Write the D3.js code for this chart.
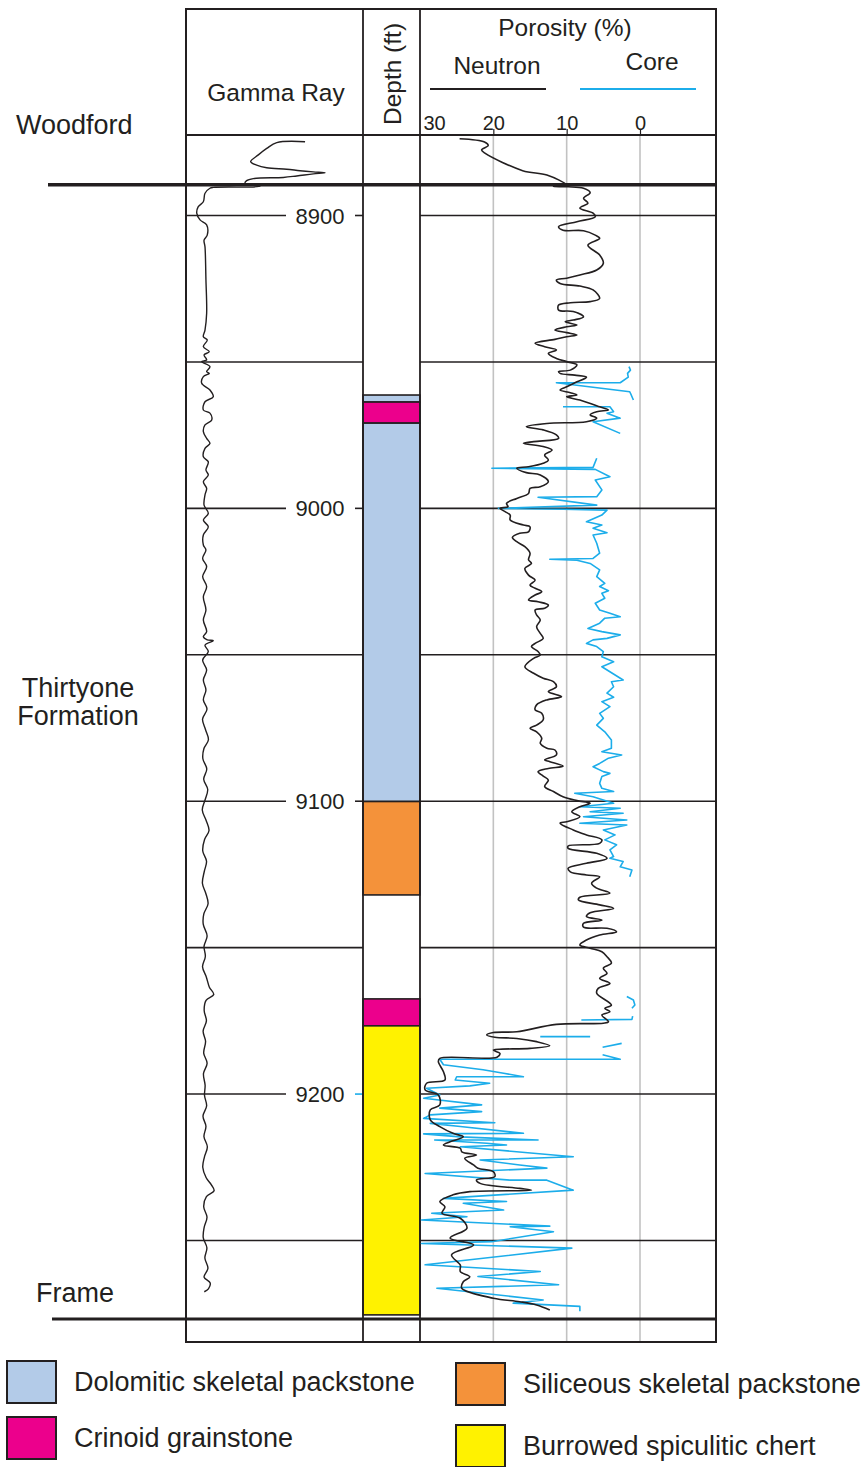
<!DOCTYPE html>
<html><head><meta charset="utf-8">
<script src="https://cdn.jsdelivr.net/npm/d3@7"></script>
<style>
body{margin:0;background:#fff;}
svg text{font-family:"Liberation Sans", Arial, Helvetica, sans-serif; fill:#231f20;}
</style></head><body>
<svg id="chart" width="867" height="1467"></svg>
<script>
// ---------------- DATA ----------------
const depthLabels = [8900, 9000, 9100, 9200];
const depthGrid = [8950, 9050, 9150, 9250];
const porosityTicks = [30, 20, 10, 0];
const porosityGrid = [20, 10, 0];
const formationNames = ["Woodford", "Frame"];
const formationTops = [8889.5, 9276.8];
const zoneLabel = ["Thirtyone", "Formation"];

const lithTypes = ["Dolomitic skeletal packstone", "Crinoid grainstone", "Siliceous skeletal packstone", "Burrowed spiculitic chert"];
const lithColors = ["#b3cbe8", "#ec008c", "#f4923a", "#fff200"];
const lithTop  = [8961.3, 8963.7, 8970.9, 9100.1, 9167.5, 9176.7];
const lithBase = [8963.7, 8970.9, 9100.1, 9132.0, 9176.7, 9275.4];
const lithKind = [0, 1, 0, 2, 1, 3];

// gamma ray [depth ft, API]
const gammaRay = [[8874.8,100.9],[8875.1,76.9],[8877.1,68.4],[8879.3,61.3],[8881.6,54.8],[8882.8,59.9],[8883.7,68.4],[8884.2,85.3],[8884.7,96.6],[8885.1,107.9],[8885.4,117.8],[8885.8,107.9],[8886.5,93.8],[8887.0,82.5],[8887.4,57.0],[8888.1,51.4],[8889.0,50.0],[8890.1,62.7],[8890.4,23.1],[8890.7,20.3],[8892.4,16.1],[8895.3,14.7],[8897.0,10.4],[8899.2,9.1],[8901.5,11.9],[8903.2,17.5],[8906.7,18.0],[8908.4,15.3],[8910.7,16.1],[8922.0,16.9],[8933.4,17.5],[8939.1,16.1],[8941.4,14.7],[8942.5,18.0],[8944.8,14.7],[8946.5,19.7],[8947.6,15.3],[8949.3,17.5],[8949.9,13.3],[8951.6,20.3],[8953.3,17.5],[8953.9,19.7],[8955.0,14.7],[8957.3,13.3],[8959.6,20.3],[8961.9,23.1],[8963.6,16.1],[8966.4,14.7],[8967.5,20.3],[8969.8,21.8],[8971.5,16.1],[8973.8,14.7],[8976.1,17.5],[8977.8,20.3],[8979.5,16.1],[8982.4,14.7],[8984.1,18.9],[8986.9,16.9],[8988.6,18.9],[8990.9,14.7],[8993.2,17.5],[8995.4,16.1],[8998.9,15.3],[9001.7,18.9],[9004.0,14.7],[9006.3,18.9],[9009.1,14.7],[9012.5,14.7],[9014.2,16.9],[9017.1,14.1],[9019.9,17.5],[9023.3,14.1],[9026.7,17.5],[9030.2,14.7],[9034.7,16.9],[9038.1,14.7],[9042.1,17.5],[9043.8,14.7],[9044.9,18.0],[9045.2,23.1],[9046.7,16.1],[9048.9,18.9],[9051.8,14.1],[9055.2,17.5],[9058.6,14.7],[9062.0,16.9],[9065.4,14.7],[9068.5,17.8],[9072.0,14.0],[9075.5,16.5],[9079.0,19.0],[9082.0,15.2],[9085.5,14.3],[9089.0,17.6],[9092.5,15.0],[9096.0,18.4],[9099.5,16.2],[9103.0,13.8],[9106.5,17.0],[9110.0,19.5],[9113.0,15.8],[9117.0,14.2],[9120.5,17.4],[9124.0,15.5],[9128.0,13.9],[9131.5,16.8],[9135.0,18.7],[9138.5,15.1],[9142.0,14.6],[9146.0,17.9],[9149.5,15.3],[9153.0,16.4],[9156.5,14.0],[9160.0,17.2],[9163.5,19.8],[9166.0,23.5],[9168.0,17.0],[9171.5,15.4],[9175.0,17.3],[9178.5,14.5],[9182.0,16.6],[9186.0,15.0],[9189.5,17.9],[9193.0,14.8],[9197.0,16.2],[9200.5,15.7],[9204.0,17.5],[9207.5,14.4],[9211.0,16.9],[9214.5,15.2],[9218.0,18.1],[9221.5,15.6],[9225.0,14.2],[9228.5,17.0],[9231.0,21.5],[9233.0,23.8],[9235.0,17.3],[9238.5,15.0],[9242.0,17.8],[9245.5,15.4],[9249.0,14.6],[9252.5,17.7],[9256.0,16.0],[9259.5,18.6],[9262.5,15.3],[9264.5,20.5],[9266.5,19.0],[9267.5,15.5]];

// neutron porosity [depth ft, %]
const neutron = [[8873.8,24.6],[8874.9,21.2],[8876.1,20.7],[8877.6,21.6],[8878.8,21.1],[8884.7,16.0],[8886.2,12.7],[8889.5,10.1],[8890.1,11.8],[8890.2,9.8],[8890.7,7.7],[8892.2,6.8],[8894.1,7.7],[8895.8,7.1],[8897.5,8.2],[8899.2,6.4],[8900.4,6.1],[8902.1,8.6],[8903.8,11.1],[8905.0,10.5],[8905.2,7.7],[8906.7,6.1],[8907.8,5.5],[8910.1,7.1],[8913.5,5.5],[8916.3,5.0],[8918.6,5.9],[8920.3,8.2],[8921.4,10.0],[8922.0,11.4],[8923.2,10.9],[8924.1,8.2],[8925.4,6.4],[8928.3,5.5],[8929.4,6.8],[8929.8,9.5],[8930.6,11.1],[8932.3,11.1],[8932.8,9.1],[8934.6,7.7],[8935.7,9.1],[8936.3,10.2],[8937.4,8.6],[8938.0,10.0],[8939.1,11.6],[8940.0,10.0],[8940.8,8.6],[8941.4,10.0],[8942.3,11.6],[8943.6,14.3],[8944.8,13.0],[8945.9,11.4],[8947.1,12.5],[8948.8,11.4],[8949.9,10.0],[8951.0,8.6],[8952.8,9.5],[8953.3,11.1],[8953.9,10.9],[8954.5,8.9],[8955.2,7.3],[8956.8,8.6],[8958.5,10.0],[8959.6,10.9],[8960.5,9.5],[8961.3,8.6],[8961.9,10.0],[8963.0,8.2],[8965.3,5.5],[8966.4,4.3],[8967.0,5.9],[8968.1,6.8],[8969.2,5.9],[8970.4,7.3],[8971.0,12.7],[8972.1,15.5],[8973.2,13.2],[8974.9,11.4],[8976.1,11.1],[8977.2,14.5],[8977.8,15.9],[8978.9,13.2],[8980.1,12.0],[8981.8,13.0],[8983.5,12.5],[8984.6,13.2],[8985.8,15.2],[8986.3,16.8],[8987.8,15.5],[8988.6,13.6],[8990.9,12.5],[8992.6,13.6],[8993.2,15.0],[8994.9,15.2],[8996.6,16.8],[8998.3,18.2],[8999.4,18.0],[9000.0,19.1],[9001.1,18.4],[9002.3,17.7],[9004.0,17.7],[9005.7,15.9],[9006.3,15.0],[9008.0,15.2],[9008.5,16.4],[9009.9,17.4],[9011.4,16.8],[9013.1,15.7],[9015.3,15.0],[9017.6,15.2],[9018.8,14.8],[9020.5,15.7],[9022.8,15.2],[9024.5,14.3],[9026.2,15.0],[9027.3,14.3],[9028.5,13.4],[9029.6,14.3],[9031.3,15.2],[9031.9,13.9],[9033.0,12.5],[9034.1,13.0],[9034.7,14.3],[9036.4,14.1],[9038.1,13.6],[9040.4,14.1],[9042.7,13.6],[9044.4,13.2],[9046.1,14.3],[9047.2,14.8],[9048.9,13.9],[9050.1,13.6],[9051.2,14.5],[9054.1,15.7],[9056.3,14.5],[9058.0,13.2],[9059.2,11.8],[9060.9,11.4],[9062.6,12.5],[9064.3,10.7],[9065.4,12.7],[9067.1,14.1],[9068.8,14.3],[9070.0,13.4],[9072.2,13.2],[9074.0,14.1],[9075.1,15.0],[9076.3,14.1],[9078.5,13.4],[9080.2,13.6],[9081.9,12.7],[9082.5,11.6],[9084.2,11.4],[9085.9,13.0],[9086.5,12.3],[9088.0,10.5],[9088.8,12.5],[9089.9,13.9],[9091.4,13.2],[9092.8,12.5],[9095.0,13.0],[9096.7,11.8],[9098.5,10.5],[9099.8,8.6],[9100.7,6.8],[9101.9,8.2],[9103.6,9.3],[9105.3,8.2],[9107.0,10.0],[9107.5,10.9],[9109.8,9.1],[9111.5,7.3],[9113.2,5.2],[9114.4,5.5],[9115.3,9.8],[9116.1,9.8],[9117.8,5.9],[9119.5,4.5],[9121.2,7.3],[9122.9,9.8],[9124.1,9.5],[9125.2,7.3],[9125.8,5.5],[9128.0,6.6],[9129.7,5.9],[9131.4,4.1],[9132.8,8.2],[9133.7,8.4],[9135.4,5.5],[9136.6,3.6],[9138.1,6.8],[9139.4,7.3],[9140.6,5.2],[9141.7,7.7],[9143.0,7.7],[9143.4,4.5],[9144.6,3.2],[9145.7,5.5],[9147.4,7.3],[9149.1,8.2],[9150.2,6.8],[9151.4,5.2],[9153.1,4.5],[9155.3,3.9],[9157.0,5.0],[9158.8,4.5],[9160.5,5.5],[9162.2,4.1],[9163.9,5.7],[9165.6,5.9],[9169.6,3.9],[9170.7,4.8],[9171.9,4.1],[9173.0,5.2],[9175.3,4.3],[9175.8,5.0],[9176.2,11.4],[9178.7,16.8],[9179.0,20.0],[9179.8,20.9],[9180.6,19.8],[9181.0,16.8],[9182.1,14.1],[9183.5,12.3],[9184.4,15.0],[9185.0,20.0],[9186.1,19.1],[9187.4,19.5],[9187.8,27.3],[9188.9,27.5],[9192.4,26.8],[9195.2,26.6],[9196.3,29.1],[9198.6,29.3],[9200.3,27.5],[9203.7,27.3],[9205.4,28.6],[9208.8,28.6],[9211.1,27.3],[9213.4,25.5],[9214.6,24.1],[9216.3,25.9],[9217.4,26.8],[9218.5,24.5],[9219.7,24.3],[9220.8,22.3],[9221.9,23.9],[9224.2,22.7],[9225.3,22.1],[9226.5,20.0],[9228.2,19.8],[9229.3,22.3],[9230.5,21.8],[9232.2,16.4],[9232.8,14.8],[9233.3,23.2],[9234.4,25.5],[9236.7,27.3],[9238.5,26.6],[9240.7,27.0],[9242.4,24.5],[9245.8,23.6],[9249.2,25.9],[9251.5,22.7],[9254.9,25.7],[9258.4,24.5],[9260.6,24.5],[9262.4,23.2],[9264.1,24.1],[9266.3,24.3],[9269.7,20.0],[9270.9,16.4],[9272.0,14.1],[9273.7,12.3]];

// core porosity segments [depth ft, %]
const coreA = [[8951.6,1.5],[8952.8,1.3],[8953.9,1.7],[8955.2,1.6],[8957.1,2.7],[8957.1,11.4],[8960.2,1.4],[8960.7,1.3],[8963.0,0.9]];
const coreB = [[8965.3,10.5],[8965.3,4.1],[8967.0,3.6],[8967.5,4.5],[8969.2,2.7],[8970.4,6.4],[8974.4,2.7]];
const coreC = [[8982.9,5.9],[8986.0,6.4],[8986.3,20.2],[8986.7,6.1],[8989.2,4.1],[8990.3,6.1],[8993.7,5.2],[8996.0,5.9],[8996.2,13.9],[8998.9,5.9],[9000.0,19.3],[9000.3,10.5],[9000.6,4.5],[9002.3,5.2],[9004.6,7.3],[9005.7,5.2],[9006.8,6.4],[9008.3,4.5],[9009.1,6.4],[9011.9,5.9],[9015.3,5.5],[9017.1,6.4],[9017.4,12.3],[9017.7,8.6],[9018.8,6.8],[9021.0,5.5],[9023.3,5.9],[9025.6,4.8],[9026.7,5.5],[9028.1,4.3],[9029.0,5.2],[9030.7,4.8],[9032.4,6.1],[9034.7,5.5],[9035.8,4.1],[9037.0,2.7],[9037.5,4.8],[9039.2,5.5],[9041.0,7.1],[9042.1,5.2],[9043.2,2.7],[9044.4,4.5],[9044.9,6.4],[9046.1,7.3],[9047.2,5.9],[9048.9,5.0],[9050.7,5.2],[9052.4,3.6],[9054.1,5.2],[9058.6,2.3],[9059.2,3.9],[9060.9,3.6],[9063.1,4.5],[9064.5,3.6],[9066.0,5.2],[9067.7,4.1],[9070.0,5.5],[9071.7,5.0],[9074.0,5.9],[9076.3,4.8],[9079.1,3.9],[9081.9,3.9],[9083.1,5.2],[9084.2,2.5],[9085.3,4.3],[9087.1,5.5],[9088.2,6.4],[9089.9,5.0],[9090.5,4.1],[9091.6,5.2],[9093.9,5.5],[9095.6,5.2],[9096.7,3.6],[9097.3,8.9],[9098.5,6.4],[9100.7,3.6],[9101.9,8.2],[9102.4,2.7],[9103.6,6.8],[9104.1,2.3],[9105.3,7.7],[9106.4,1.8],[9107.5,8.2],[9108.1,1.8],[9109.8,5.0],[9111.5,3.4],[9113.2,4.8],[9114.9,3.2],[9116.6,4.1],[9118.9,3.6],[9119.5,4.1],[9120.6,2.3],[9122.4,2.7],[9123.5,1.1],[9125.8,1.4]];
const coreD = [[9166.7,1.8],[9167.9,0.9],[9169.6,0.7],[9170.7,1.1]];
const coreE = [[9174.7,8.0],[9174.5,1.1],[9173.4,1.0]];
const coreF = [[9180.4,13.6],[9180.4,6.8]];
const coreG = [[9184.0,5.1],[9182.7,2.5]];
const coreH = [[9186.6,5.1],[9188.1,2.7],[9188.1,27.3],[9190.0,26.8],[9191.7,21.4],[9192.9,18.6],[9194.1,15.9],[9194.1,25.0],[9195.2,25.2],[9196.3,20.5],[9197.2,23.2],[9198.0,29.1],[9200.3,27.3],[9201.4,29.5],[9203.7,21.6],[9204.8,27.3],[9206.0,21.6],[9207.1,28.6],[9208.3,29.5],[9209.8,19.8],[9210.0,28.6],[9211.1,24.5],[9213.4,15.9],[9213.6,29.5],[9214.6,24.5],[9215.7,13.9],[9215.7,28.0],[9216.8,20.9],[9217.4,18.2],[9218.0,24.5],[9221.4,9.1],[9222.5,21.8],[9224.2,16.4],[9225.3,12.7],[9227.1,29.3],[9229.4,17.7],[9229.4,12.7],[9232.8,9.1],[9235.6,26.8],[9236.7,18.2],[9237.3,24.1],[9239.6,18.6],[9240.7,28.4],[9241.9,23.6],[9243.0,29.8],[9245.1,12.3],[9245.3,17.7],[9247.0,11.8],[9250.4,20.2],[9251.0,29.8],[9252.6,9.3],[9256.6,23.2],[9258.3,29.3],[9260.6,13.6],[9262.3,22.1],[9265.1,11.1],[9266.3,27.7],[9270.3,13.2],[9271.4,17.3],[9272.5,8.2],[9274.2,8.2]];
const coreSegments = [coreA, coreB, coreC, coreD, coreE, coreF, coreG, coreH];

// ---------------- LAYOUT ----------------
const INK = "#231f20", CORE = "#1cadea", GRID = "#c2c2c2";
const L = 186, R = 716, T = 9, HB = 135, B = 1342, C1 = 363, C2 = 420;
const svg = d3.select("#chart");

const y = d3.scaleLinear().domain([8900, 9250]).range([215.5, 1240.5]);
const xPor = d3.scaleLinear().domain([30, 0]).range([C2, 640]);
const xGR = d3.scaleLinear().domain([0, 150]).range([L, C1]);

// porosity gridlines
svg.append("g").selectAll("line").data(porosityGrid).join("line")
  .attr("x1", d => xPor(d)).attr("x2", d => xPor(d))
  .attr("y1", HB).attr("y2", B)
  .attr("stroke", GRID).attr("stroke-width", 1.6);

// depth grid lines
const gGrid = svg.append("g").attr("stroke", INK).attr("stroke-width", 1.6);
depthGrid.forEach(d => {
  gGrid.append("line").attr("x1", L).attr("x2", C1).attr("y1", y(d)).attr("y2", y(d));
  gGrid.append("line").attr("x1", C2).attr("x2", R).attr("y1", y(d)).attr("y2", y(d));
});
depthLabels.forEach(d => {
  gGrid.append("line").attr("x1", L).attr("x2", 286).attr("y1", y(d)).attr("y2", y(d));
  gGrid.append("line").attr("x1", 355).attr("x2", C1).attr("y1", y(d)).attr("y2", y(d))
    .attr("stroke", d === 9200 ? CORE : INK);
  gGrid.append("line").attr("x1", C2).attr("x2", R).attr("y1", y(d)).attr("y2", y(d));
  svg.append("text").attr("x", 320).attr("y", y(d) + 8).attr("text-anchor", "middle")
    .attr("font-size", 22).text(d);
});

// lithology column
svg.append("g").selectAll("rect").data(lithTop.map((t, i) => ({t, b: lithBase[i], k: lithKind[i]}))).join("rect")
  .attr("x", C1).attr("width", C2 - C1)
  .attr("y", d => y(d.t)).attr("height", d => y(d.b) - y(d.t))
  .attr("fill", d => lithColors[d.k]).attr("stroke", INK).attr("stroke-width", 1.6);

// frame
const gF = svg.append("g").attr("stroke", INK).attr("fill", "none");
gF.append("rect").attr("x", L).attr("y", T).attr("width", R - L).attr("height", B - T).attr("stroke-width", 2);
gF.append("line").attr("x1", C1).attr("x2", C1).attr("y1", T).attr("y2", B).attr("stroke-width", 1.8);
gF.append("line").attr("x1", C2).attr("x2", C2).attr("y1", T).attr("y2", B).attr("stroke-width", 1.8);
gF.append("line").attr("x1", L).attr("x2", R).attr("y1", HB).attr("y2", HB).attr("stroke-width", 2);

// formation tops
svg.append("g").selectAll("line").data(formationTops).join("line")
  .attr("x1", (d, i) => i === 0 ? 48 : 52).attr("x2", R)
  .attr("y1", d => y(d)).attr("y2", d => y(d))
  .attr("stroke", INK).attr("stroke-width", (d, i) => i === 0 ? 3.6 : 3.2);

// curves
const lineGR = d3.line().x(d => xGR(d[1])).y(d => y(d[0])).curve(d3.curveCatmullRom.alpha(0.5));
const linePor = d3.line().x(d => xPor(d[1])).y(d => y(d[0]));
svg.append("path").datum(gammaRay).attr("d", lineGR).attr("fill", "none").attr("stroke", INK).attr("stroke-width", 1.4);
svg.append("g").selectAll("path").data(coreSegments).join("path")
  .attr("d", linePor).attr("fill", "none").attr("stroke", CORE).attr("stroke-width", 1.6).attr("stroke-linejoin", "round");
svg.append("path").datum(neutron).attr("d", linePor.curve(d3.curveCatmullRom.alpha(0.5)))
  .attr("fill", "none").attr("stroke", INK).attr("stroke-width", 1.6);

// porosity axis (header)
const axis = d3.axisTop(xPor).tickValues(porosityTicks).tickSize(6).tickFormat(d3.format("d"));
const gA = svg.append("g").attr("transform", `translate(0,${HB})`).call(axis);
gA.select(".domain").remove();
gA.selectAll(".tick line").attr("stroke", INK).attr("stroke-width", 1.2).filter(d => d === 30).remove();
gA.selectAll(".tick text").attr("font-size", 20).attr("font-family", '"Liberation Sans", Arial, sans-serif')
  .attr("fill", INK).attr("y", -5);
gA.selectAll(".tick").filter(d => d === 30).select("text").attr("text-anchor", "start").attr("x", 3);

// header text
const hdr = svg.append("g").attr("font-size", 24.5);
hdr.append("text").attr("x", 276).attr("y", 101).attr("text-anchor", "middle").text("Gamma Ray");
hdr.append("text").attr("transform", "translate(401,74) rotate(-90)").attr("text-anchor", "middle").text("Depth (ft)");
hdr.append("text").attr("x", 565).attr("y", 36).attr("text-anchor", "middle").text("Porosity (%)");
hdr.append("text").attr("x", 497).attr("y", 74).attr("text-anchor", "middle").text("Neutron");
hdr.append("text").attr("x", 652).attr("y", 70).attr("text-anchor", "middle").text("Core");
svg.append("line").attr("x1", 430).attr("x2", 546).attr("y1", 89).attr("y2", 89).attr("stroke", INK).attr("stroke-width", 2);
svg.append("line").attr("x1", 580).attr("x2", 696).attr("y1", 89).attr("y2", 89).attr("stroke", CORE).attr("stroke-width", 2);

// formation labels
const fl = svg.append("g").attr("font-size", 27);
fl.append("text").attr("x", 16).attr("y", 134).text(formationNames[0]);
fl.append("text").attr("x", 36).attr("y", 1302).text(formationNames[1]);
fl.append("text").attr("x", 78).attr("y", 697).attr("text-anchor", "middle").text(zoneLabel[0]);
fl.append("text").attr("x", 78).attr("y", 725).attr("text-anchor", "middle").text(zoneLabel[1]);

// legend
const legPos = [[7, 1361], [7, 1417], [456, 1363], [456, 1425]];
const lg = svg.append("g").selectAll("g").data(lithTypes).join("g")
  .attr("transform", (d, i) => `translate(${legPos[i][0]},${legPos[i][1]})`);
lg.append("rect").attr("width", 49).attr("height", 42)
  .attr("fill", (d, i) => lithColors[i]).attr("stroke", INK).attr("stroke-width", 2);
lg.append("text").attr("x", 67).attr("y", 30).attr("font-size", 27).text(d => d);
</script></body></html>
